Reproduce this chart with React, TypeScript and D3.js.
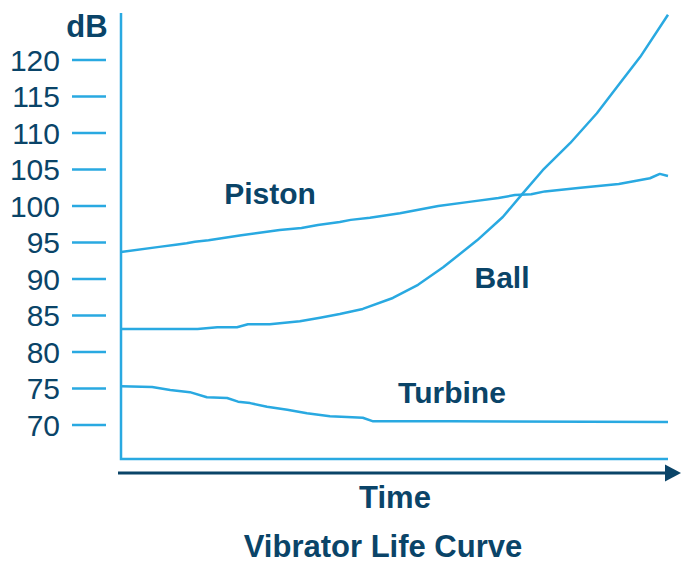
import React from "react";
import * as d3 from "d3";

// y ticks
const dbTicks = [70, 75, 80, 85, 90, 95, 100, 105, 110, 115, 120];

// series (time in % of life, level in dB)
const pistonTime = [0, 7, 10, 12, 13.5, 16, 22, 25, 29, 33, 36, 40, 42, 45.5, 51, 58, 64, 69, 72, 75, 77.5, 84, 91, 96.7, 98.5, 100];
const pistonDb = [93.7, 94.4, 94.7, 94.9, 95.1, 95.3, 96.0, 96.3, 96.7, 97.0, 97.4, 97.8, 98.1, 98.4, 99.0, 100.0, 100.6, 101.1, 101.5, 101.6, 102.0, 102.5, 103.0, 103.8, 104.4, 104.1];

const ballTime = [0, 14, 17.6, 21.2, 23.2, 27.2, 32.7, 36.4, 40, 44.2, 49.7, 54.3, 58.9, 65.1, 69.8, 73.3, 77.1, 82.1, 87, 91.2, 94.9, 100];
const ballDb = [83.15, 83.15, 83.4, 83.4, 83.8, 83.8, 84.2, 84.7, 85.2, 85.9, 87.4, 89.2, 91.6, 95.3, 98.5, 101.6, 104.9, 108.6, 112.7, 116.8, 120.4, 126.2];

const turbineTime = [0, 5.7, 9, 12.6, 15.7, 19.4, 21.4, 23.6, 26.7, 30.4, 34, 38.2, 41.3, 44.2, 46.1, 60, 100];
const turbineDb = [75.3, 75.2, 74.8, 74.5, 73.8, 73.7, 73.2, 73.0, 72.5, 72.1, 71.6, 71.2, 71.1, 71.0, 70.5, 70.5, 70.4];

const seriesNames = ["Piston", "Ball", "Turbine"];

const lightBlue = "#29a9e1";
const navy = "#0a4468";
const font = "'Liberation Sans', Arial, Helvetica, sans-serif";

const App = () => {
  const width = 681;
  const height = 564;

  const x = d3.scaleLinear().domain([0, 100]).range([121, 668]);
  const y = d3.scaleLinear().domain([70, 120]).range([425, 60]);

  const line = d3
    .line<[number, number]>()
    .x((d) => x(d[0]))
    .y((d) => y(d[1]));

  const zip = (t: number[], v: number[]) => t.map((d, i) => [d, v[i]] as [number, number]);

  // label centres
  const series = [
    { name: seriesNames[0], pts: zip(pistonTime, pistonDb), lx: 270, ly: 193 },
    { name: seriesNames[1], pts: zip(ballTime, ballDb), lx: 502, ly: 277 },
    { name: seriesNames[2], pts: zip(turbineTime, turbineDb), lx: 452, ly: 392 },
  ];

  const yTop = 13;
  const yBottom = 459;

  return (
    <svg
      width={width}
      height={height}
      style={{ position: "absolute", left: 0, top: 0, background: "#fff" }}
      fontFamily={font}
    >
      {/* frame */}
      <path
        d={`M${x(0)},${yTop}V${yBottom}H${x(100)}`}
        fill="none"
        stroke={lightBlue}
        strokeWidth={2.5}
      />

      {/* y ticks */}
      {dbTicks.map((t) => (
        <g key={t}>
          <line x1={72} x2={106} y1={y(t)} y2={y(t)} stroke={lightBlue} strokeWidth={2.5} />
          <text x={60} y={y(t)} dy="0.36em" textAnchor="end" fontSize={30} fill={navy}>
            {t}
          </text>
        </g>
      ))}
      <text x={87} y={26} dy="0.36em" textAnchor="middle" fontSize={31} fontWeight="bold" fill={navy}>
        dB
      </text>

      {/* lines */}
      {series.map((s) => (
        <g key={s.name}>
          <path d={line(s.pts) || ""} fill="none" stroke={lightBlue} strokeWidth={2.5} strokeLinejoin="round" />
          <text x={s.lx} y={s.ly} dy="0.36em" textAnchor="middle" fontSize={30} fontWeight="bold" fill={navy}>
            {s.name}
          </text>
        </g>
      ))}

      {/* time arrow */}
      <line x1={118} x2={667} y1={473} y2={473} stroke={navy} strokeWidth={3} />
      <path d="M665,464.5L681,473L665,481.5Z" fill={navy} />
      <text x={395} y={497} dy="0.36em" textAnchor="middle" fontSize={31} fontWeight="bold" fill={navy}>
        Time
      </text>

      <text x={383} y={546} dy="0.36em" textAnchor="middle" fontSize={31} fontWeight="bold" fill={navy}>
        Vibrator Life Curve
      </text>
    </svg>
  );
};

export default App;
